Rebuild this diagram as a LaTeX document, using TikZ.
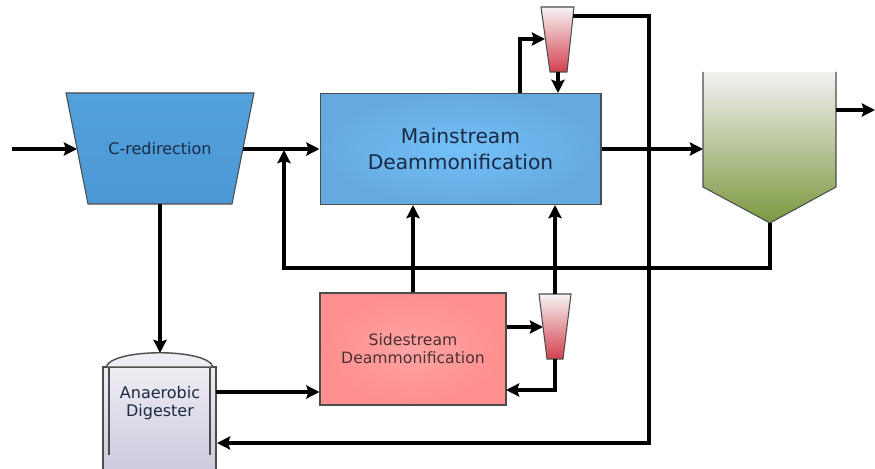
\documentclass[tikz,border=0pt]{standalone}
\usepackage{fontspec}
\setmainfont{DejaVu Sans}
\usetikzlibrary{arrows.meta}

\definecolor{credtop}{HTML}{52A0DC}
\definecolor{credmid}{HTML}{5CB2F2}
\definecolor{credbot}{HTML}{4C98D4}
\definecolor{mainin}{HTML}{74C0F8}
\definecolor{mainout}{HTML}{64AAE0}
\definecolor{sidein}{HTML}{FFA4A4}
\definecolor{sideout}{HTML}{FF8E8E}
\definecolor{conetop}{HTML}{F6F4F4}
\definecolor{conebot}{HTML}{D4404E}
\definecolor{clartop}{HTML}{F2F2F2}
\definecolor{clarmid}{HTML}{CDD4BC}
\definecolor{clarbot}{HTML}{7C9840}
\definecolor{digtop}{HTML}{EEEDF3}
\definecolor{digbot}{HTML}{CFC9DD}
\definecolor{navytxt}{HTML}{1A2A44}
\definecolor{redtxt}{HTML}{4A3030}

\begin{document}
\begin{tikzpicture}[
    x=0.02cm, y=-0.02cm,
    flow/.style={line width=2pt, -{Stealth[length=7.5pt, width=7.5pt, inset=1.2pt]}},
    outline/.style={draw=black!70, line width=0.6pt},
    reactor/.style={outline, rectangle, inner sep=0pt, align=center},
    txt/.style={font=\fontsize{9.1}{10.6}\selectfont, align=center}
]
\useasboundingbox (0,0) rectangle (875,469);

% ============================================================
% Units
% ============================================================

% C-redirection
\shadedraw[outline, top color=credtop, middle color=credmid, bottom color=credbot]
    (66,93) -- (254,93) -- (232,204) -- (88,204) -- cycle;
\node[txt, text=navytxt] (cred) at (160,149) {C-redirection};
\coordinate (credL) at (77,149);
\coordinate (credR) at (243,149);
\coordinate (credB) at (160,204);

% Mainstream
\node[reactor, minimum width=5.62cm, minimum height=2.22cm,
      inner color=mainin, outer color=mainout, text=navytxt,
      font=\fontsize{11.5}{14.5}\selectfont] (main) at (460.5,149)
    {Mainstream\\Deammonification};

% Sidestream
\node[reactor, minimum width=3.72cm, minimum height=2.24cm,
      inner color=sidein, outer color=sideout, text=redtxt,
      font=\fontsize{8.9}{10.3}\selectfont] (side) at (413,349)
    {Sidestream\\Deammonification};

% Hydrocyclone, mainstream
\shadedraw[outline, top color=conetop, bottom color=conebot]
    (541,7) -- (574,7) -- (567,72) -- (550,72) -- cycle;
\coordinate (cyc1in) at (545,39);
\coordinate (cyc1out) at (558,72);
\coordinate (cyc1top) at (573,16);

% Hydrocyclone, sidestream
\shadedraw[outline, top color=conetop, bottom color=conebot]
    (539,294) -- (571,294) -- (563,359) -- (547,359) -- cycle;
\coordinate (cyc2in) at (543,327);
\coordinate (cyc2top) at (555,294);
\coordinate (cyc2bot) at (555,359);

% Clarifier
\shade[top color=clartop, middle color=clarmid, bottom color=clarbot]
    (703,72) -- (703,187) -- (770,223) -- (836,187) -- (836,72) -- cycle;
\draw[outline] (703,72) -- (703,187) -- (770,223) -- (836,187) -- (836,72);
\coordinate (clarL) at (703,149);
\coordinate (clarR) at (836,110);
\coordinate (clarB) at (770,223);

% Anaerobic digester
\shade[top color=digtop, bottom color=digbot]
    (103,469) -- (103,367) -- (216,367) -- (216,469) -- cycle;
\draw[outline, line width=0.8pt] (103,469) -- (103,367) -- (216,367) -- (216,469);
\draw[outline, line width=0.8pt] (109,367) -- (109,455);
\draw[outline, line width=0.8pt] (210,367) -- (210,455);
\shadedraw[outline, line width=0.8pt, top color=digtop, bottom color=digtop]
    (106,367) .. controls (112,348) and (208,348) .. (213,367) -- cycle;
\node[txt, text=navytxt] (dig) at (160,403) {Anaerobic\\Digester};
\coordinate (digtop) at (160,353);
\coordinate (digout) at (216,392);
\coordinate (digret) at (217,443);

% ============================================================
% Streams
% ============================================================
\coordinate (feed) at (12,149);
\coordinate (effluent) at (875,110);
\coordinate (junc) at (284,150);
\coordinate (sideret) at (506,390);

\draw[flow] (feed) -- (credL);
\draw[flow] (credR) -- (main.west);
\draw[flow] (main.east) -- (clarL);
\draw[flow] (clarR) -- (effluent);

% Sludge recycle
\draw[flow] (clarB) |- (500,268) -| (junc);

% Mainstream cyclone loop
\draw[flow] (520,0 |- main.north) |- (cyc1in);
\draw[flow] (cyc1out) -- (cyc1out |- main.north);
\draw[flow] (cyc1top) -| (649,443) -- (digret);

% Digester and sidestream
\draw[flow] (credB) -- (digtop);
\draw[flow] (digout) -- (side.west |- digout);
\draw[flow] (side.north) -- (main.south -| side.north);
\draw[flow] (cyc2top) -- (main.south -| cyc2top);
\draw[flow] (side.east |- cyc2in) -- (cyc2in);
\draw[flow] (cyc2bot) |- (sideret);
\end{tikzpicture}
\end{document}
